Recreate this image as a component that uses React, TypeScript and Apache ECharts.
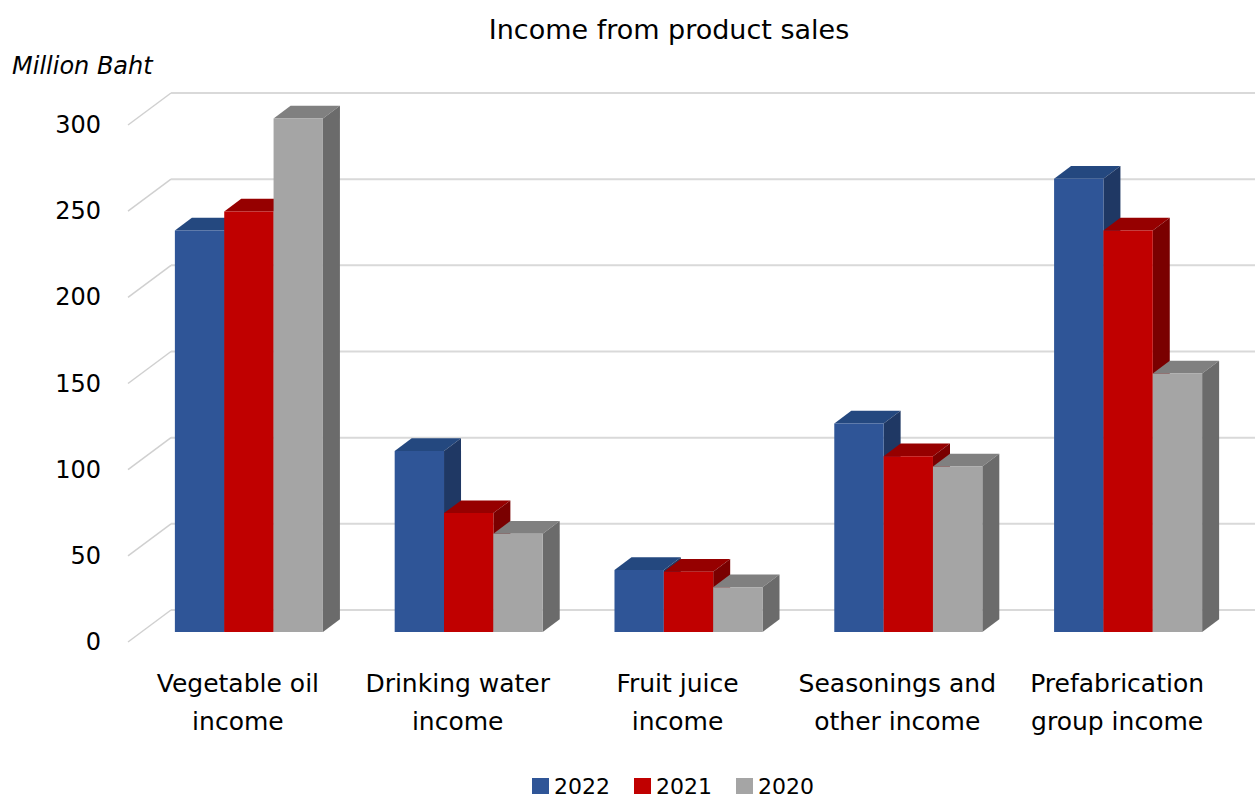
import React, { useEffect, useRef } from "react";
import * as echarts from "echarts";

const categories = [
  "Vegetable oil\nincome",
  "Drinking water\nincome",
  "Fruit juice\nincome",
  "Seasonings and\nother income",
  "Prefabrication\ngroup income",
];
const years = ["2022", "2021", "2020"];
const values2022 = [233, 105, 36, 121, 263];
const values2021 = [244, 69, 35, 102, 233];
const values2020 = [298, 57, 26, 96, 150];
const yTicks = [0, 50, 100, 150, 200, 250, 300];

const FONT = "DejaVu Sans";
const palettes = [
  { front: "#2F5597", top: "#24487F", side: "#1F3864" },
  { front: "#C00000", top: "#960000", side: "#7A0000" },
  { front: "#A5A5A5", top: "#808080", side: "#6B6B6B" },
];

// geometry (pixels)
const BAR_OFF_X = 11;
const BAR_OFF_Y = -10;
const DEPTH_X = 17;
const DEPTH_Y = -12.7;
const WALL_X = 43;
const WALL_Y = -32;
const BAR_FRAC = 0.2245;

function makeBarRender(sIdx: number) {
  const pal = palettes[sIdx];
  return (params: any, api: any) => {
    const cat = api.value(0);
    const val = api.value(1);
    const base = api.coord([cat, 0]);
    const top = api.coord([cat, val]);
    const band = api.size([1, 0])[0];
    const w = band * BAR_FRAC;
    const x0 = base[0] - 1.5 * w + sIdx * w + BAR_OFF_X;
    const x1 = x0 + w;
    const yb = base[1] + BAR_OFF_Y;
    const yt = top[1] + BAR_OFF_Y;
    return {
      type: "group",
      children: [
        {
          type: "polygon",
          shape: {
            points: [
              [x0, yt],
              [x1, yt],
              [x1 + DEPTH_X, yt + DEPTH_Y],
              [x0 + DEPTH_X, yt + DEPTH_Y],
            ],
          },
          style: { fill: pal.top },
        },
        {
          type: "polygon",
          shape: {
            points: [
              [x1, yt],
              [x1 + DEPTH_X, yt + DEPTH_Y],
              [x1 + DEPTH_X, yb + DEPTH_Y],
              [x1, yb],
            ],
          },
          style: { fill: pal.side },
        },
        {
          type: "rect",
          shape: { x: x0, y: yt, width: w, height: yb - yt },
          style: { fill: pal.front },
        },
      ],
    };
  };
}

function gridRender(params: any, api: any) {
  const v = api.value(0);
  const p = api.coord([0, v]);
  const cs = params.coordSys;
  const xl = cs.x;
  const y = p[1];
  return {
    type: "group",
    children: [
      {
        type: "line",
        shape: { x1: xl, y1: y, x2: xl + WALL_X, y2: y + WALL_Y },
        style: { stroke: "#D0D0D0", lineWidth: 1.5 },
      },
      {
        type: "line",
        shape: { x1: xl + WALL_X, y1: y + WALL_Y, x2: 1255, y2: y + WALL_Y },
        style: { stroke: "#D9D9D9", lineWidth: 2 },
      },
    ],
  };
}

export default function App() {
  const ref = useRef<HTMLDivElement>(null);
  useEffect(() => {
    document.body.style.margin = "0";
    const chart = echarts.init(ref.current!, null, { renderer: "svg" });
    const allValues = [values2022, values2021, values2020];
    chart.setOption({
      animation: false,
      textStyle: { fontFamily: FONT },
      grid: { left: 128, right: 28, top: 125, bottom: 155 },
      legend: {
        left: 532,
        top: 775,
        padding: 0,
        itemWidth: 17,
        itemHeight: 16,
        itemGap: 24,
        icon: "rect",
        textStyle: {
          fontSize: 22,
          lineHeight: 20,
          color: "#000",
          fontFamily: FONT,
        },
        data: years,
      },
      xAxis: {
        type: "category",
        data: categories,
        axisLine: { show: false },
        axisTick: { show: false },
        axisLabel: {
          fontSize: 25,
          lineHeight: 38,
          color: "#000",
          margin: 22,
          interval: 0,
          fontFamily: FONT,
        },
      },
      yAxis: {
        type: "value",
        min: 0,
        max: 300,
        interval: 50,
        axisLine: { show: false },
        axisTick: { show: false },
        splitLine: { show: false },
        axisLabel: { fontSize: 24, color: "#000", margin: 27, fontFamily: FONT },
      },
      graphic: [
        {
          type: "text",
          x: 669,
          y: 29,
          style: {
            text: "Income from product sales",
            fontSize: 27,
            fontFamily: FONT,
            fill: "#000",
            align: "center",
            verticalAlign: "middle",
          },
        },
        {
          type: "text",
          x: 12,
          y: 66,
          style: {
            text: "Million Baht",
            fontSize: 24,
            fontStyle: "italic",
            fontFamily: FONT,
            fill: "#000",
            align: "left",
            verticalAlign: "middle",
          },
        },
      ],
      series: [
        {
          type: "custom",
          name: "grid",
          silent: true,
          z: 1,
          renderItem: gridRender,
          encode: { y: 0 },
          data: yTicks.map((t) => [t]),
          tooltip: { show: false },
        },
        ...years.map((yr, i) => ({
          type: "custom",
          name: yr,
          z: 2,
          itemStyle: { color: palettes[i].front },
          renderItem: makeBarRender(i),
          encode: { x: 0, y: 1 },
          data: allValues[i].map((v, j) => [j, v]),
        })),
      ],
    });
    return () => chart.dispose();
  }, []);
  return <div ref={ref} style={{ width: 1255, height: 797 }} />;
}
